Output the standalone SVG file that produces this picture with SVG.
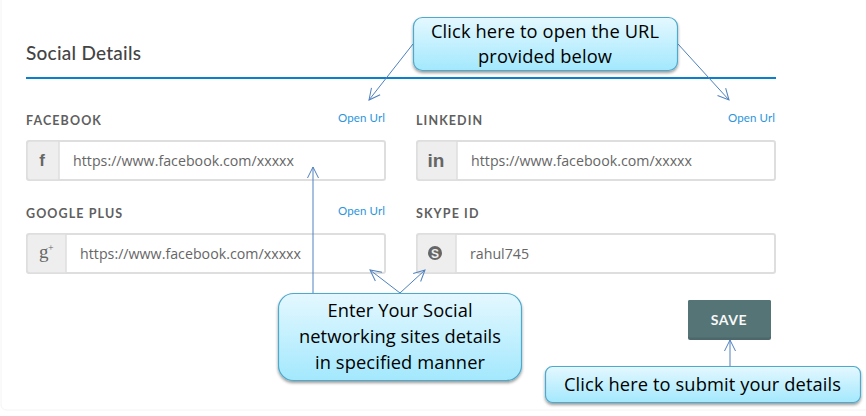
<svg xmlns="http://www.w3.org/2000/svg" width="866" height="416" viewBox="0 0 866 416">
<style>
.lbl{font:700 12.5px Lato,"Liberation Sans",sans-serif;fill:#5f5f5f;letter-spacing:1.1px}
.url{font:11.5px Lato,"Liberation Sans",sans-serif;fill:#2b95dc}
.val{font:14.2px "Open Sans","Liberation Sans",sans-serif;fill:#666}
.box{fill:#fff;stroke:#dedede;stroke-width:2}
.add{fill:#eee;stroke:#dedede;stroke-width:1.5}
.ico{font:700 17px "Liberation Sans",sans-serif;fill:#666;text-anchor:middle}
.call{fill:url(#g);stroke:#4fa9cb;stroke-width:1.2;filter:url(#s)}
.ct{font:18.3px "Open Sans","Noto Sans",sans-serif;fill:#000;text-anchor:middle}
.c{fill:none;stroke:#4f81bd;stroke-width:1;marker-end:url(#a)}
</style>
<defs>
<linearGradient id="g" x1="0" y1="0" x2="0" y2="1"><stop offset="0" stop-color="#e4f8ff"/><stop offset="1" stop-color="#a3e8fd"/></linearGradient>
<filter id="s" x="-5%" y="-10%" width="110%" height="125%"><feDropShadow dx="0" dy="2" stdDeviation="1.5" flood-color="#000" flood-opacity=".4"/></filter>
<marker id="a" markerUnits="userSpaceOnUse" markerWidth="20" markerHeight="20" refX="14" refY="10" orient="auto"><path d="M3 4.500L14 10L3 15.500" fill="none" stroke="#4f81bd" stroke-width="1"/></marker>
</defs>
<rect width="866" height="416" fill="#fff"/>
<path d="M1 0V404Q1 410 7 410H866" fill="none" stroke="#f4f4f4" stroke-width="1"/>
<g id="heading"><text x="26" y="60" font-family="Lato,'Liberation Sans',sans-serif" font-size="19" font-weight="500" fill="#444" textLength="115">Social Details</text><rect x="26" y="77" width="750" height="2" fill="#0a7fcc"/></g>
<g id="facebook"><text class="lbl" x="26" y="125">FACEBOOK</text><text class="url" x="338" y="122" textLength="47">Open Url</text><rect class="box" x="27" y="141" width="358" height="39" rx="2"/><path class="add" d="M59 141H30Q27 141 27 144V177Q27 180 30 180H59Z"/><text class="ico" x="42" y="166">f</text><text class="val" x="73" y="166" textLength="221">https://www.facebook.com/xxxxx</text></g>
<g id="linkedin"><text class="lbl" x="416" y="125">LINKEDIN</text><text class="url" x="728" y="122" textLength="47">Open Url</text><rect class="box" x="417" y="141" width="358" height="39" rx="2"/><path class="add" d="M457 141H420Q417 141 417 144V177Q417 180 420 180H457Z"/><text class="ico" x="436" y="167" style="font-size:19px">in</text><text class="val" x="471" y="166" textLength="221">https://www.facebook.com/xxxxx</text></g>
<g id="googleplus"><text class="lbl" x="26" y="218">GOOGLE PLUS</text><text class="url" x="338" y="215" textLength="47">Open Url</text><rect class="box" x="27" y="234" width="358" height="39" rx="2"/><path class="add" d="M66 234H30Q27 234 27 237V270Q27 273 30 273H66Z"/><text x="39" y="258" font-family="'Liberation Serif',serif" font-size="19" fill="#666">g<tspan dx="-0.500" dy="-7" font-size="10">+</tspan></text><text class="val" x="80" y="259" textLength="221">https://www.facebook.com/xxxxx</text></g>
<g id="skype"><text class="lbl" x="416" y="218">SKYPE ID</text><rect class="box" x="417" y="234" width="358" height="39" rx="2"/><path class="add" d="M456 234H420Q417 234 417 237V270Q417 273 420 273H456Z"/><circle cx="435" cy="253" r="7" fill="#666"/><text x="435" y="257.500" text-anchor="middle" font-family="'Liberation Sans',sans-serif" font-size="12" font-weight="700" fill="#eee">S</text><text class="val" x="470" y="259">rahul745</text></g>
<g id="save"><rect x="688" y="300" width="83" height="40" rx="2" fill="#4c686a"/><rect x="688" y="300" width="83" height="37.500" rx="2" fill="#557476"/><text x="729" y="325" text-anchor="middle" font-family="Lato,'Liberation Sans',sans-serif" font-size="14" font-weight="700" fill="#f8f8f8" letter-spacing=".6">SAVE</text></g>
<g id="connectors">
<path class="c" d="M413 44L369 100"/>
<path class="c" d="M678 44L729 100"/>
<path class="c" d="M313 293V167"/>
<path class="c" d="M400 293L370 270"/>
<path class="c" d="M400 293L425 270"/>
<path class="c" d="M730 366V340"/>
</g>
<g id="callout-url"><rect class="call" x="413.500" y="17.500" width="264" height="53" rx="9"/><text class="ct" x="545" y="37.500" textLength="228">Click here to open the URL</text><text class="ct" x="545" y="63" textLength="134">provided below</text></g>
<g id="callout-enter"><rect class="call" x="278.500" y="293.500" width="243" height="87" rx="15"/><text class="ct" x="400" y="317" textLength="145">Enter Your Social</text><text class="ct" x="400" y="343" textLength="202">networking sites details</text><text class="ct" x="400" y="369" textLength="170">in specified manner</text></g>
<g id="callout-save"><rect class="call" x="545.500" y="366.500" width="315" height="36" rx="7"/><text class="ct" x="702.500" y="391" textLength="277">Click here to submit your details</text></g>
</svg>
